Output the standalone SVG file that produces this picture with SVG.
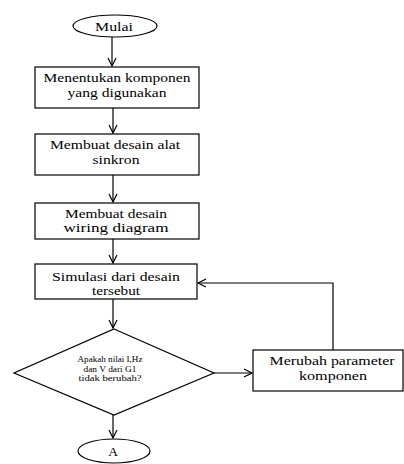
<svg xmlns="http://www.w3.org/2000/svg" width="404" height="464" viewBox="0 0 404 464">
<defs>
<style>
.s{fill:#fff;stroke:#000;stroke-width:1.2}
.t{font-family:"Liberation Serif","Times New Roman",serif;font-size:13.5px;fill:#000;text-anchor:middle}
.d{font-family:"Liberation Serif","Times New Roman",serif;font-size:8.5px;fill:#000;text-anchor:middle}
.c{fill:none;stroke:#000;stroke-width:1.2}
</style>
<marker id="ah" markerWidth="12" markerHeight="12" refX="10" refY="6" orient="auto" markerUnits="userSpaceOnUse">
<polyline points="2,2 10,6 2,10" fill="none" stroke="#000" stroke-width="1.2"/>
</marker>
</defs>
<rect width="404" height="464" fill="#fff"/>
<g id="connectors">
<line class="c" x1="112" y1="37" x2="112" y2="66" marker-end="url(#ah)"/>
<line class="c" x1="113" y1="108" x2="113" y2="133" marker-end="url(#ah)"/>
<line class="c" x1="113" y1="175" x2="113" y2="202" marker-end="url(#ah)"/>
<line class="c" x1="113" y1="239" x2="113" y2="263" marker-end="url(#ah)"/>
<line class="c" x1="113" y1="299" x2="113" y2="328" marker-end="url(#ah)"/>
<line class="c" x1="113" y1="415" x2="113" y2="438" marker-end="url(#ah)"/>
<line class="c" x1="214" y1="373" x2="252" y2="373" marker-end="url(#ah)"/>
<polyline class="c" points="333,350 333,283 198,283" marker-end="url(#ah)"/>
</g>
<g id="mulai">
<ellipse class="s" cx="115" cy="26" rx="42" ry="11"/>
<text class="t" x="114" y="31" textLength="38" lengthAdjust="spacingAndGlyphs">Mulai</text>
</g>
<g id="box1">
<rect class="s" x="35" y="67" width="164" height="41"/>
<text class="t" x="117" y="82" textLength="147" lengthAdjust="spacingAndGlyphs">Menentukan komponen</text>
<text class="t" x="117" y="97" textLength="99" lengthAdjust="spacingAndGlyphs">yang digunakan</text>
</g>
<g id="box2">
<rect class="s" x="35" y="134" width="164" height="41"/>
<text class="t" x="115" y="149" textLength="130" lengthAdjust="spacingAndGlyphs">Membuat desain alat</text>
<text class="t" x="116" y="164" textLength="47" lengthAdjust="spacingAndGlyphs">sinkron</text>
</g>
<g id="box3">
<rect class="s" x="35" y="203" width="164" height="36"/>
<text class="t" x="116" y="217.5" textLength="102" lengthAdjust="spacingAndGlyphs">Membuat desain</text>
<text class="t" x="116" y="232" textLength="105" lengthAdjust="spacingAndGlyphs">wiring diagram</text>
</g>
<g id="box4">
<rect class="s" x="35" y="264" width="162" height="35"/>
<text class="t" x="116" y="280.5" textLength="128" lengthAdjust="spacingAndGlyphs">Simulasi dari desain</text>
<text class="t" x="116" y="295" textLength="48" lengthAdjust="spacingAndGlyphs">tersebut</text>
</g>
<g id="decision">
<polygon class="s" points="114,329 214,373 114,415 14,373"/>
<text class="d" x="110" y="362" textLength="65" lengthAdjust="spacingAndGlyphs">Apakah nilai I,Hz</text>
<text class="d" x="110" y="371.7" textLength="53" lengthAdjust="spacingAndGlyphs">dan V dari G1</text>
<text class="d" x="110" y="381.4" textLength="63" lengthAdjust="spacingAndGlyphs">tidak berubah?</text>
</g>
<g id="box5">
<rect class="s" x="253" y="350" width="150" height="41"/>
<text class="t" x="332" y="365" textLength="125" lengthAdjust="spacingAndGlyphs">Merubah parameter</text>
<text class="t" x="333" y="380" textLength="68" lengthAdjust="spacingAndGlyphs">komponen</text>
</g>
<g id="a">
<ellipse class="s" cx="114" cy="451" rx="36" ry="12"/>
<text class="t" x="113" y="456">A</text>
</g>
</svg>
